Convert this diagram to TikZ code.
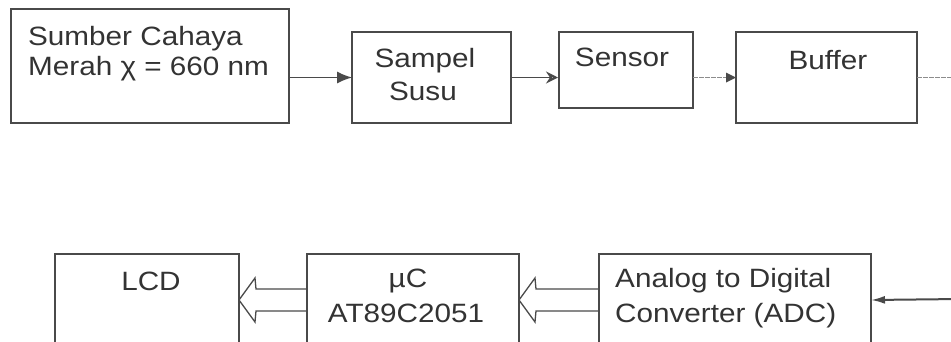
\documentclass[tikz,border=0pt]{standalone}
\usepackage{fontspec}
\setmainfont{Liberation Sans}[FakeStretch=1.12]
\usetikzlibrary{arrows.meta}
\definecolor{linec}{HTML}{4A4A4A}
\definecolor{textc}{HTML}{333333}
\definecolor{greyc}{HTML}{8C8C8C}
\begin{document}
\begin{tikzpicture}[x=1pt,y=-1pt,
  box/.style={draw=linec, line width=1.4pt, inner sep=0pt, outer sep=0pt, anchor=north west},
  txt/.style={inner sep=0pt, text=textc, font=\fontsize{26.5}{30}\selectfont},
  conn/.style={draw=linec, line width=1.2pt},
  greyconn/.style={draw=greyc, line width=1.5pt, dash pattern=on 5pt off 1pt},
  hollow/.style={draw=linec, line width=1.3pt, line join=miter}
]
\path[use as bounding box, fill=white] (0,0) rectangle (951,341);
\clip (0,0) rectangle (951,341);

% top row boxes
\node[box, minimum width=278pt, minimum height=114pt] (sumber) at (11,9) {};
\node[box, minimum width=159pt, minimum height=91pt] (sampel) at (352,32) {};
\node[box, minimum width=134pt, minimum height=76pt] (sensor) at (559,32) {};
\node[box, minimum width=181pt, minimum height=91pt] (buffer) at (736,32) {};

% bottom row boxes
\node[box, minimum width=184pt, minimum height=92pt] (lcd) at (55,254) {};
\node[box, minimum width=212pt, minimum height=92pt] (uc) at (307,254) {};
\node[box, minimum width=272pt, minimum height=92pt] (adc) at (599,254) {};

% texts
\node[txt, anchor=base west] (t1a) at (28,45) {Sumber Cahaya};
\node[txt, anchor=base west] (t1b) at (28,75) {Merah χ = 660 nm};
\node[txt, anchor=base] (t2a) at (425,67) {Sampel};
\node[txt, anchor=base] (t2b) at (423,100) {Susu};
\node[txt, anchor=base] (t3) at (622,66) {Sensor};
\node[txt, anchor=base] (t4) at (828,69) {Buffer};
\node[txt, anchor=base] (t5) at (151,290) {LCD};
\node[txt, anchor=base] (t6a) at (408,287) {µC};
\node[txt, anchor=base] (t6b) at (406,322) {AT89C2051};
\node[txt, anchor=base west] (t7a) at (615,287) {Analog to Digital};
\node[txt, anchor=base west] (t7b) at (615,322) {Converter (ADC)};

% coordinates at picture edge
\coordinate (outtop) at (960,77.5);
\coordinate (inbot) at (960,299);

% top connectors
\draw[conn, -{Latex[length=15pt,width=12pt]}] (sumber.east |- sampel.west) -- (sampel.west);
\draw[conn, -{Stealth[open,length=12pt,width=12pt,inset=4pt,line width=2pt]}] (sampel.east) -- ([xshift=-1pt]sensor.west |- sampel.east);
\draw[greyconn] (sensor.east |- buffer.west) -- ([xshift=-9pt]buffer.west);
\draw[draw=none, fill=linec] (buffer.west) -- ++(-10,-5) -- ++(0,10) -- cycle;
\draw[greyconn] (buffer.east) -- (outtop);

% bottom connectors
\draw[conn, line width=2pt, -{Latex[length=14pt,width=8pt]}] (inbot) -- (adc.east);
\draw[hollow] ([yshift=11pt]adc.west) -- ([xshift=17pt,yshift=11pt]uc.east) -- ([xshift=16pt,yshift=22pt]uc.east) -- (uc.east) -- ([xshift=16pt,yshift=-22pt]uc.east) -- ([xshift=17pt,yshift=-11pt]uc.east) -- ([yshift=-11pt]adc.west);
\draw[hollow] ([yshift=11pt]uc.west) -- ([xshift=17pt,yshift=11pt]lcd.east) -- ([xshift=16pt,yshift=22pt]lcd.east) -- (lcd.east) -- ([xshift=16pt,yshift=-22pt]lcd.east) -- ([xshift=17pt,yshift=-11pt]lcd.east) -- ([yshift=-11pt]uc.west);
\end{tikzpicture}
\end{document}
